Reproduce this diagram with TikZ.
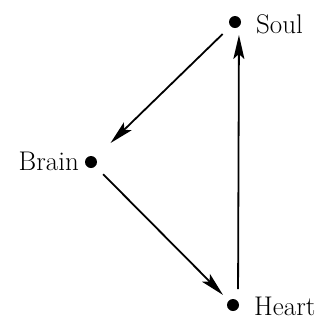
\documentclass[tikz,border=0pt]{standalone}
\usetikzlibrary{arrows.meta}
\begin{document}
\begin{tikzpicture}[x=1pt,y=-1pt,
  dot/.style={circle,fill=black,inner sep=0pt,minimum size=12pt},
  lbl/.style={font=\fontsize{27}{30}\selectfont,inner sep=0pt},
  conn/.style={line width=1.8pt,-{Stealth[length=24pt,width=11pt,inset=5pt]}}]
\useasboundingbox (0,0) rectangle (327,322);
\node[dot] (soul) at (235,22) {};
\node[dot] (brain) at (91,162) {};
\node[dot] (heart) at (233,305) {};
\node[lbl,anchor=west] (soullbl) at (256,24) {Soul};
\node[lbl,anchor=east] (brainlbl) at (79,161) {Brain};
\node[lbl,anchor=west] (heartlbl) at (254,306) {Heart};
\draw[conn,shorten <=11pt,shorten >=21pt] (soul) -- (brain);
\draw[conn,shorten <=11pt,shorten >=8pt] (brain) -- (heart);
\draw[conn,shorten <=16pt,shorten >=13pt] ([xshift=5pt]heart.center) -- ([xshift=4pt]soul.center);
\end{tikzpicture}
\end{document}
